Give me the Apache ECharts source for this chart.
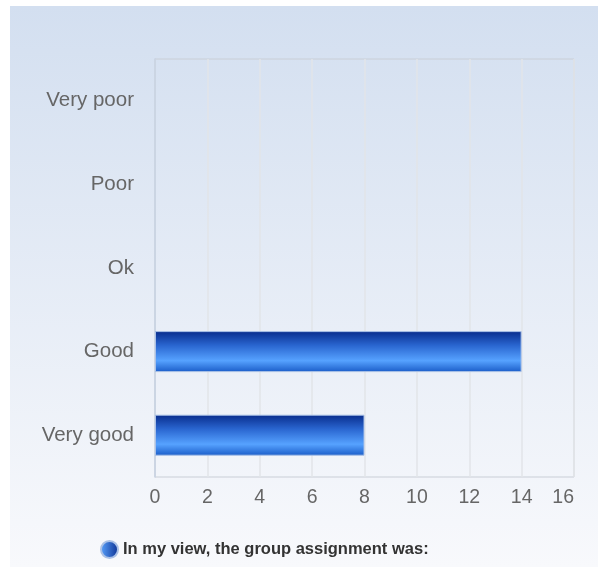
<!DOCTYPE html>
<html>
<head>
<meta charset="utf-8">
<script src="https://cdn.jsdelivr.net/npm/echarts@6/dist/echarts.min.js"></script>
<style>
  html, body { margin: 0; padding: 0; background: #fff; }
  #chart { width: 598px; height: 567px; }
</style>
</head>
<body>
<div id="chart"></div>
<script>
const categories = ['Very poor', 'Poor', 'Ok', 'Good', 'Very good']
const counts = [0, 0, 0, 14, 8]
const seriesName = 'In my view, the group assignment was:'

const chart = echarts.init(document.getElementById('chart'))

const barColor = new echarts.graphic.LinearGradient(0, 0, 0, 1, [
  { offset: 0, color: '#082c8c' },
  { offset: 0.35, color: '#2a66d0' },
  { offset: 0.72, color: '#56a2ff' },
  { offset: 1, color: '#1a5cc8' }
])

// empty bars get no border so no sliver shows on the axis
const barData = counts.map(v => ({
  value: v,
  itemStyle: v === 0 ? { borderWidth: 0 } : {}
}))

const option = {
  animation: false,
  textStyle: { fontFamily: 'Liberation Sans, Arial, sans-serif' },
  graphic: [{
    type: 'rect',
    z: -10,
    silent: true,
    shape: { x: 10, y: 6, width: 588, height: 561 },
    style: {
      fill: new echarts.graphic.LinearGradient(0, 0, 0, 1, [
        { offset: 0, color: '#d3dff0' },
        { offset: 1, color: '#f8f9fc' }
      ])
    }
  }],
  grid: {
    left: 155,
    right: 24,
    top: 59,
    bottom: 90,
    show: true,
    borderColor: '#c9ced6',
    borderWidth: 1,
    backgroundColor: 'transparent'
  },
  legend: {
    top: 535,
    left: 95,
    icon: 'circle',
    itemWidth: 17,
    itemHeight: 17,
    itemGap: 6,
    textStyle: { fontSize: 16.5, fontWeight: 'bold', color: '#333' },
    data: [{
      name: seriesName,
      itemStyle: {
        color: new echarts.graphic.LinearGradient(0, 0, 1, 0, [
          { offset: 0, color: '#5aa4ff' },
          { offset: 1, color: '#0b2f92' }
        ])
      }
    }]
  },
  xAxis: {
    type: 'value',
    min: 0,
    max: 16,
    interval: 2,
    axisLine: { show: false },
    axisTick: { show: false },
    axisLabel: { fontSize: 19.5, color: '#666', margin: 11, alignMaxLabel: 'right' },
    splitLine: { lineStyle: { color: '#e2e4e8', width: 1.5 } }
  },
  yAxis: {
    type: 'category',
    inverse: true,
    data: categories,
    axisLine: { lineStyle: { color: '#c5d0e2', width: 1.5 } },
    axisTick: { show: false },
    axisLabel: { fontSize: 20.5, color: '#666', margin: 21 }
  },
  series: [{
    name: seriesName,
    type: 'bar',
    data: barData,
    barWidth: 41,
    itemStyle: {
      color: barColor,
      borderColor: '#a9c0e6',
      borderWidth: 1
    }
  }]
}

chart.setOption(option)
</script>
</body>
</html>
